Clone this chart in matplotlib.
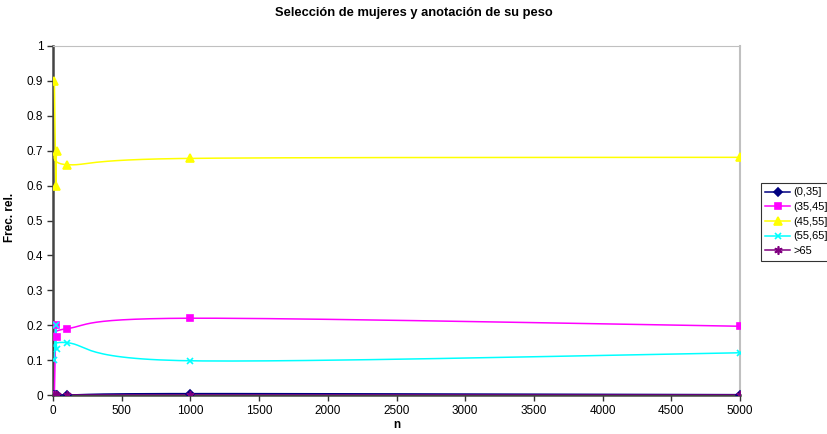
import numpy as np
import matplotlib.pyplot as plt

plt.rcParams['font.family'] = ['Liberation Sans', 'DejaVu Sans']

# tamaños de muestra y frecuencias relativas por intervalo de peso
n = [10, 20, 30, 100, 1000, 5000]
f_0_35 = [0, 0, 0, 0, 0.004, 0.001]
f_35_45 = [0, 0.2, 0.167, 0.19, 0.22, 0.197]
f_45_55 = [0.9, 0.6, 0.7, 0.66, 0.678, 0.681]
f_55_65 = [0.1, 0.2, 0.133, 0.15, 0.098, 0.121]
f_65 = [0, 0, 0, 0, 0, 0]

labels = ['(0,35]', '(35,45]', '(45,55]', '(55,65]', '>65']
colors = ['#000080', '#FF00FF', '#FFFF00', '#00FFFF', '#800080']
markers = ['D', 's', '^', 'x', (6, 2, 0)]
msizes = [4, 5, 5.5, 5, 6]


def smooth(x, y, steps=30):
    '''curva suavizada tipo Catmull-Rom entre los puntos'''
    x = np.asarray(x, float)
    y = np.asarray(y, float)
    xs, ys = [x[0]], [y[0]]
    for i in range(len(x) - 1):
        p0 = (x[max(i - 1, 0)], y[max(i - 1, 0)])
        p1 = (x[i], y[i])
        p2 = (x[i + 1], y[i + 1])
        p3 = (x[min(i + 2, len(x) - 1)], y[min(i + 2, len(x) - 1)])
        c1 = (p1[0] + (p2[0] - p0[0]) / 6, p1[1] + (p2[1] - p0[1]) / 6)
        c2 = (p2[0] - (p3[0] - p1[0]) / 6, p2[1] - (p3[1] - p1[1]) / 6)
        t = np.linspace(0, 1, steps)[1:]
        a = (1 - t) ** 3
        b = 3 * (1 - t) ** 2 * t
        c = 3 * (1 - t) * t ** 2
        d = t ** 3
        xs.extend(a * p1[0] + b * c1[0] + c * c2[0] + d * p2[0])
        ys.extend(a * p1[1] + b * c1[1] + c * c2[1] + d * p2[1])
    return np.array(xs), np.array(ys)


fig = plt.figure(figsize=(8.27, 4.34), dpi=100)
ax = fig.add_axes([53 / 827, 1 - 395 / 434, 687 / 827, 349 / 434])

series = [f_0_35, f_35_45, f_45_55, f_55_65, f_65]
for vals, lab, col, mk, ms in zip(series, labels, colors, markers, msizes):
    sx, sy = smooth(n, vals)
    ax.plot(sx, sy, color=col, lw=1.1, zorder=3)
    ax.plot(n, vals, linestyle='none', marker=mk, color=col, ms=ms,
            mew=1.2, zorder=4)
    ax.plot([], [], color=col, lw=1.1, marker=mk, ms=ms, mew=1.2, label=lab)

ax.set_xlim(0, 5000)
ax.set_ylim(0, 1)
ax.set_xticks(np.arange(0, 5001, 500))
ax.set_yticks(np.arange(0, 1.01, 0.1))
ax.set_yticklabels(['0', '0.1', '0.2', '0.3', '0.4', '0.5', '0.6', '0.7',
                    '0.8', '0.9', '1'])
ax.tick_params(labelsize=8.5, length=4, width=1, direction='out',
               color='#333333', pad=3)

ax.spines['left'].set_color('#444444')
ax.spines['left'].set_linewidth(1.8)
ax.spines['bottom'].set_color('#444444')
ax.spines['bottom'].set_linewidth(1.8)
ax.spines['top'].set_color('#C0C0C0')
ax.spines['right'].set_color('#C0C0C0')
ax.spines['right'].set_linewidth(1.5)

ax.set_xlabel('n', fontsize=8.5, fontweight='bold', labelpad=2)
ax.set_ylabel('Frec. rel.', fontsize=8.5, fontweight='bold')
ax.yaxis.set_label_coords(16 / 827, 0.5, transform=fig.transFigure)
fig.text(0.5, 1 - 13 / 434, 'Selección de mujeres y anotación de su peso',
         ha='center', va='center', fontsize=9.3, fontweight='bold')

leg = ax.legend(loc='upper left', bbox_to_anchor=(761 / 827, 1 - 183 / 434),
                bbox_transform=fig.transFigure, fontsize=8, frameon=True,
                fancybox=False, edgecolor='black', handlelength=2.2,
                handletextpad=0.3, borderpad=0.4, borderaxespad=0,
                labelspacing=0.42)
leg.get_frame().set_linewidth(0.8)

fig.savefig('out.png', dpi=100)
